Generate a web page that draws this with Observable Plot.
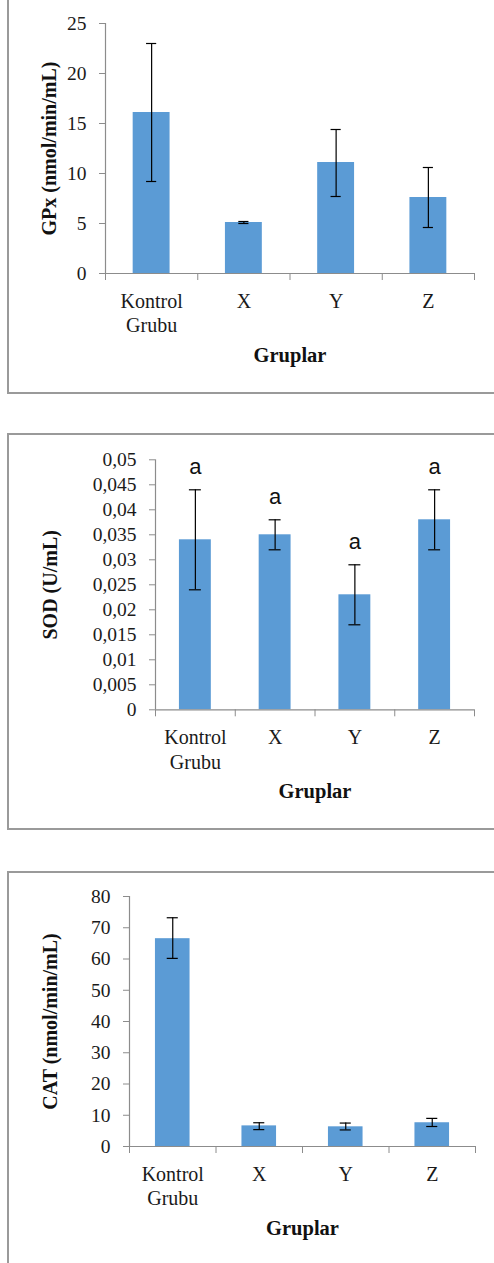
<!DOCTYPE html>
<html>
<head>
<meta charset="utf-8">
<script src="https://cdn.jsdelivr.net/npm/d3@7"></script>
<script src="https://cdn.jsdelivr.net/npm/@observablehq/plot@0.6"></script>
<style>
  html, body { margin: 0; padding: 0; background: #fff; }
  #page { position: relative; width: 494px; height: 1263px; overflow: hidden; background: #fff; }
  .box { position: absolute; box-sizing: border-box; border: 2px solid #9a9a9a; }
  .panel { position: absolute; left: 0; }
</style>
</head>
<body>
<div id="page"></div>
<script>
// ---- data ----
const groups = ["Kontrol\nGrubu", "X", "Y", "Z"];

const gpxMean = [16.1, 5.1, 11.1, 7.6];
const gpxLow  = [9.2, 5.0, 7.7, 4.6];
const gpxHigh = [23.0, 5.2, 14.4, 10.6];
const gpxTicks = [0, 5, 10, 15, 20, 25];

const sodMean = [0.034, 0.035, 0.023, 0.038];
const sodLow  = [0.024, 0.032, 0.017, 0.032];
const sodHigh = [0.044, 0.038, 0.029, 0.044];
const sodLetters = ["a", "a", "a", "a"];
const sodTicks = [0, 0.005, 0.01, 0.015, 0.02, 0.025, 0.03, 0.035, 0.04, 0.045, 0.05];

const catMean = [66.5, 6.6, 6.3, 7.6];
const catLow  = [60.2, 5.4, 5.3, 6.4];
const catHigh = [73.2, 7.6, 7.5, 9.0];
const catTicks = [0, 10, 20, 30, 40, 50, 60, 70, 80];

const xTitle = "Gruplar";

// ---- drawing ----
const barColor = "#5b9bd5";
const axisColor = "#8c8c8c";
const serif = "'Liberation Serif', 'Times New Roman', serif";

function makePanel(cfg) {
  const rows = groups.map((g, i) => ({
    i, group: g, mean: cfg.mean[i], low: cfg.low[i], high: cfg.high[i],
    letter: cfg.letters ? cfg.letters[i] : null
  }));
  const c = d => d.i + 0.5;
  const half = 0.2;
  const cap = cfg.cap;
  const marks = [
    Plot.rectY(rows, {x1: d => c(d) - half, x2: d => c(d) + half, y1: 0, y2: "mean", fill: barColor}),
    Plot.ruleY([0], {stroke: axisColor, strokeWidth: 1.2}),
    Plot.ruleX([0], {stroke: axisColor, strokeWidth: 1.2}),
    Plot.axisY(cfg.ticks, {tickSize: 6, tickPadding: 13, stroke: axisColor, fill: "#1a1a1a",
      tickFormat: cfg.fmt, fontSize: 19.5, label: null}),
    Plot.axisX([0, 1, 2, 3, 4], {tickSize: 7, stroke: axisColor, tickFormat: () => "", label: null}),
    Plot.ruleX(rows, {x: c, y1: "low", y2: "high", stroke: "#000", strokeWidth: 1.2}),
    Plot.ruleY(rows, {y: "low", x1: d => c(d) - cap, x2: d => c(d) + cap, stroke: "#000", strokeWidth: 1.2}),
    Plot.ruleY(rows, {y: "high", x1: d => c(d) - cap, x2: d => c(d) + cap, stroke: "#000", strokeWidth: 1.2}),
    Plot.text(rows, {x: c, y: 0, text: "group", lineAnchor: "top", dy: 17, lineHeight: 1.22,
      fontSize: 20, fill: "#1a1a1a"}),
    Plot.text([xTitle], {text: d => d, frameAnchor: "bottom", textAnchor: "middle", lineAnchor: "middle", dy: 82,
      fontWeight: "bold", fontSize: 20.5, fill: "#111"}),
    Plot.text([cfg.ylabel], {text: d => d, frameAnchor: "left", textAnchor: "middle", rotate: -90, lineAnchor: "middle",
      dx: cfg.ylabelDx, fontWeight: "bold", fontSize: 20, fill: "#111"})
  ];
  if (cfg.letters) {
    marks.push(Plot.text(rows, {x: c, y: "high", text: "letter", dy: -23, lineAnchor: "middle",
      fontFamily: "'Liberation Sans', Arial, sans-serif", fontSize: 22, fill: "#111"}));
  }
  return Plot.plot({
    width: 494,
    height: cfg.height,
    marginLeft: cfg.ml, marginRight: cfg.mr, marginTop: cfg.mt, marginBottom: cfg.mb,
    x: {type: "linear", domain: [0, 4], axis: null, label: null},
    y: {domain: [0, cfg.ticks[cfg.ticks.length - 1]], axis: null, label: null},
    style: {fontFamily: serif, fontSize: "19px", color: "#1a1a1a", background: "transparent", overflow: "visible"},
    marks
  });
}

const page = document.getElementById("page");

function addBox(left, top, width, height) {
  const b = document.createElement("div");
  b.className = "box";
  Object.assign(b.style, {left: left + "px", top: top + "px", width: width + "px", height: height + "px"});
  page.appendChild(b);
}
function addPanel(svg, top) {
  const d = document.createElement("div");
  d.className = "panel";
  d.style.top = top + "px";
  d.appendChild(svg);
  page.appendChild(d);
}

addBox(7, -10, 520, 404);
addBox(7, 433, 520, 397);
addBox(7, 871, 520, 500);

addPanel(makePanel({
  mean: gpxMean, low: gpxLow, high: gpxHigh, ticks: gpxTicks, fmt: d => String(d),
  ylabel: "GPx (nmol/min/mL)", ylabelDx: -56, cap: 0.055,
  height: 400, ml: 105, mr: 20, mt: 23, mb: 127
}), 0);

addPanel(makePanel({
  mean: sodMean, low: sodLow, high: sodHigh, ticks: sodTicks, letters: sodLetters,
  fmt: d => String(d).replace(".", ","),
  ylabel: "SOD (U/mL)", ylabelDx: -105, cap: 0.075,
  height: 420, ml: 155, mr: 20, mt: 39.3, mb: 130.7
}), 420);

addPanel(makePanel({
  mean: catMean, low: catLow, high: catHigh, ticks: catTicks, fmt: d => String(d),
  ylabel: "CAT (nmol/min/mL)", ylabelDx: -79, cap: 0.064,
  height: 403, ml: 129, mr: 19, mt: 36, mb: 117
}), 860);
</script>
</body>
</html>
